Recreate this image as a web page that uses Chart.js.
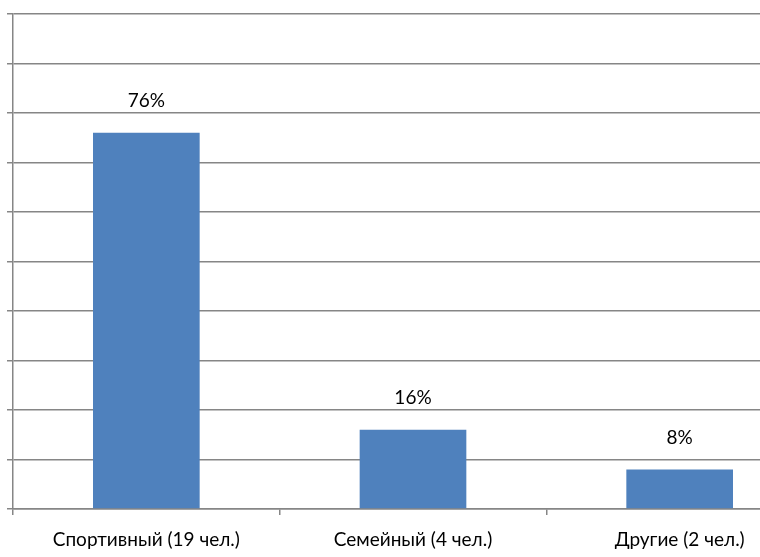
<!DOCTYPE html>
<html>
<head>
<meta charset="utf-8">
<script src="https://cdn.jsdelivr.net/npm/chart.js@4/dist/chart.umd.min.js"></script>
<style>
  html, body { margin: 0; padding: 0; background: #fff; overflow: hidden; }
  #wrap { width: 760px; height: 557px; overflow: hidden; }
</style>
</head>
<body>
<div id="wrap"><canvas id="c" width="830" height="557"></canvas></div>
<script>
const categories = ['Спортивный (19 чел.)', 'Семейный (4 чел.)', 'Другие (2 чел.)'];
const shares = [0.76, 0.16, 0.08];
const yTicks = [0, 0.1, 0.2, 0.3, 0.4, 0.5, 0.6, 0.7, 0.8, 0.9, 1];

const FONT = 'Lato, "Open Sans", sans-serif';
const FONT_SIZE = 19;
const GRID = '#868686';
const GRID_W = 1.5;

// Percentage label above each bar
const valueLabels = {
  id: 'valueLabels',
  afterDatasetsDraw(chart) {
    const ctx = chart.ctx;
    const meta = chart.getDatasetMeta(0);
    ctx.save();
    ctx.font = FONT_SIZE + 'px ' + FONT;
    ctx.fillStyle = '#000';
    ctx.textAlign = 'center';
    ctx.textBaseline = 'middle';
    meta.data.forEach((bar, i) => {
      const v = chart.data.datasets[0].data[i];
      ctx.fillText(Math.round(v * 100) + '%', bar.x, bar.y - 32);
    });
    ctx.restore();
  }
};

new Chart(document.getElementById('c'), {
  type: 'bar',
  data: {
    labels: categories,
    datasets: [{
      data: shares,
      backgroundColor: '#4f81bd',
      borderWidth: 0,
      categoryPercentage: 1,
      barPercentage: 0.4
    }]
  },
  options: {
    responsive: false,
    animation: false,
    layout: { padding: { left: 7, right: 17, top: 14, bottom: 8 } },
    plugins: { legend: { display: false }, tooltip: { enabled: false } },
    scales: {
      x: {
        offset: true,
        afterFit(scale) { scale.height = 40; },
        grid: { offset: true, drawOnChartArea: false, drawTicks: true, tickLength: 6, color: GRID, lineWidth: GRID_W },
        border: { color: GRID, width: GRID_W },
        ticks: { color: '#000', font: { family: FONT, size: FONT_SIZE }, padding: 13, maxRotation: 0, autoSkip: false }
      },
      y: {
        min: 0,
        max: 1,
        afterBuildTicks(scale) { scale.ticks = yTicks.map(v => ({ value: v })); },
        grid: { color: GRID, tickLength: 6, drawTicks: true, lineWidth: GRID_W },
        border: { color: GRID, width: GRID_W },
        ticks: { display: false }
      }
    }
  },
  plugins: [valueLabels]
});
</script>
</body>
</html>
